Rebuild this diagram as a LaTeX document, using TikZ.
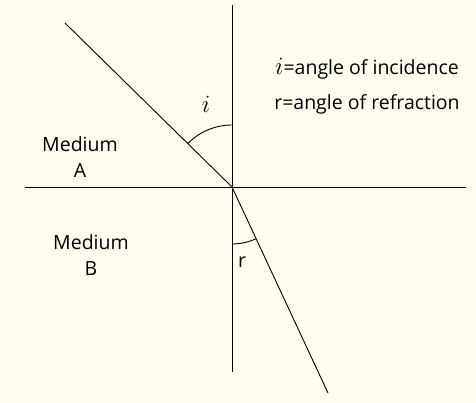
\documentclass[tikz,border=0pt]{standalone}
\usepackage{fontspec}
\setmainfont{Open Sans}
\usetikzlibrary{calc,positioning}
\definecolor{paper}{RGB}{255,252,240}

\begin{document}
\begin{tikzpicture}[x=1pt,y=-1pt,
  lbl/.style={font=\fontsize{19.5}{26}\selectfont,inner sep=0pt,align=center},
  ray/.style={line width=0.9pt}]
  \fill[paper] (0,0) rectangle (476,403);
  \useasboundingbox (0,0) rectangle (476,403);
  \coordinate (o) at (232,187);
  \coordinate (top) at (232,5);
  \coordinate (bot) at (232,372);
  \coordinate (lft) at (25,187);
  \coordinate (rgt) at (466,187);
  \coordinate (src) at (65,23);
  \coordinate (dst) at (328,393);
  \draw[ray] (top) -- (bot);
  \draw[ray] (lft) -- (rgt);
  \draw[ray] (src) -- (o);
  \draw[ray] (o) -- (dst);
  % angle arcs
  \draw[ray] ($(o)+(0,-62)$) arc[start angle=-90,end angle=-135.5,radius=62];
  \draw[ray] ($(o)+(0,57)$) arc[start angle=90,end angle=65,radius=57];
  \node[lbl] (ilbl) at (206,104) {\fontsize{24}{26}\selectfont$i$};
  \node[lbl] (rlbl) at (242,262) {r};
  \node[lbl] (idef) at (367,69) {{\fontsize{24}{26}\selectfont$i$}=angle of incidence};
  \node[lbl] (rdef) at (367,104) {r=angle of refraction};
  \node[lbl] (meda) at (80,157) {Medium\\A};
  \node[lbl] (medb) at (91,255) {Medium\\B};
\end{tikzpicture}
\end{document}
